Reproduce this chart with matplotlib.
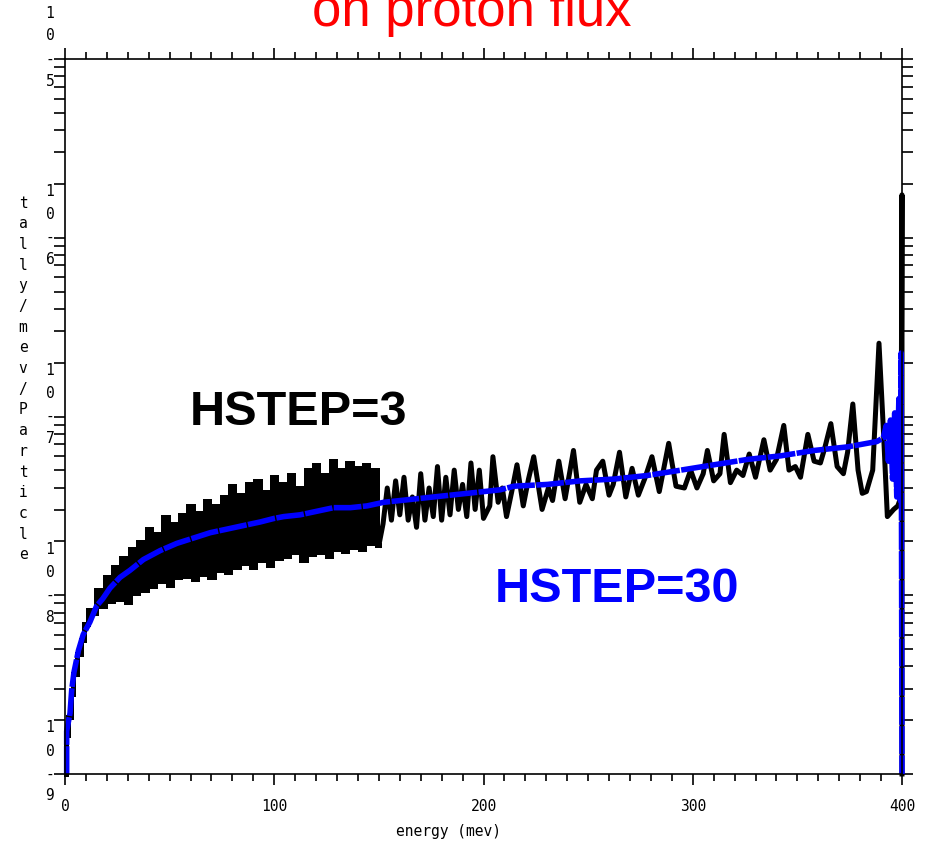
import matplotlib
matplotlib.use('Agg')
import matplotlib.pyplot as plt
import numpy as np
from matplotlib.ticker import LogLocator, MultipleLocator, NullFormatter
from matplotlib.transforms import offset_copy

# HSTEP=30 curve (smooth), energy in MeV, log10(tally/MeV/particle)
blue_e = [0.8, 0.8, 2.4, 3.2, 4.3, 6.4, 8.7, 11.9, 15.1, 18.0, 21.5, 26.3, 31.1, 37.5,
          45.5, 53.4, 61.4, 69.4, 77.4, 85.3, 93.3, 100.0, 104.5, 112.4, 120.4, 128.4,
          136.4, 144.4, 152.3, 160.3, 168.3, 176.2, 184.2, 192.2, 200.2, 208.0, 214.5,
          230.5, 246.4, 262.4, 278.3, 294.3, 310.2, 326.2, 342.1, 358.0, 374.0, 388.0,
          391.0, 392.5, 393.5, 394.5, 395.5, 396.5, 397.5, 398.5, 399.2, 399.6, 400.0]
blue_log = [-9.0, -8.76, -8.66, -8.53, -8.43, -8.31, -8.22, -8.15, -8.06, -8.02, -7.96,
            -7.90, -7.86, -7.80, -7.75, -7.71, -7.68, -7.65, -7.63, -7.61, -7.59, -7.57,
            -7.56, -7.55, -7.53, -7.51, -7.51, -7.50, -7.48, -7.47, -7.46, -7.45, -7.44,
            -7.43, -7.42, -7.41, -7.39, -7.38, -7.36, -7.35, -7.33, -7.30, -7.27, -7.24,
            -7.22, -7.19, -7.17, -7.14, -7.12, -7.05, -7.25, -7.02, -7.35, -6.98, -7.45,
            -6.90, -7.47, -6.645, -9.0]

# HSTEP=3 curve, low-energy part (dense histogram oscillation)
black_lo_e = [0.7, 0.7, 2.3, 3.3, 4.5, 6.5, 8.5,
              10, 12, 14, 16, 18, 20, 22, 24, 26, 28, 30, 32, 34, 36, 38, 40, 42, 44, 46,
              48, 50, 52, 54, 56, 58, 60, 62, 64, 66, 68, 70, 72, 74, 76, 78, 80, 82, 84,
              86, 88, 90, 92, 94, 96, 98, 100, 102, 104, 106, 108, 110, 112, 114, 116, 118,
              120, 122, 124, 126, 128, 130, 132, 134, 136, 138, 140, 142, 144, 146, 148,
              150]
black_lo_log = [-9.0, -8.78, -8.68, -8.55, -8.44, -8.33, -8.25,
                -8.16, -8.08, -8.10, -7.97, -8.06, -7.90, -8.03, -7.84, -8.02, -7.79, -8.04,
                -7.74, -7.99, -7.70, -7.97, -7.63, -7.95, -7.66, -7.92, -7.56, -7.94, -7.60,
                -7.90, -7.55, -7.89, -7.50, -7.91, -7.54, -7.88, -7.47, -7.90, -7.50, -7.86,
                -7.45, -7.87, -7.39, -7.84, -7.44, -7.82, -7.38, -7.84, -7.36, -7.80, -7.42,
                -7.83, -7.34, -7.79, -7.38, -7.78, -7.33, -7.76, -7.40, -7.80, -7.30, -7.77,
                -7.27, -7.76, -7.33, -7.78, -7.25, -7.74, -7.30, -7.75, -7.26, -7.73, -7.29,
                -7.74, -7.27, -7.71, -7.30, -7.72]

# HSTEP=3 curve, high-energy part (separated peaks)
black_hi_e = [150, 152, 154, 156, 158, 160, 162, 164, 166, 168, 170, 172, 174, 176, 178,
              180, 182, 184, 186, 188, 190, 192, 194, 196, 198, 200, 203, 204.5, 207, 209,
              211, 213.5, 216, 219, 221.5, 224, 228, 231, 233, 236, 239, 243, 246, 249,
              252, 254, 257, 260, 262, 265, 268, 271, 274, 277, 280.5, 284, 288.5, 292,
              296, 299, 302, 305, 307, 310, 313, 315, 318, 321, 324, 327, 330, 334, 337,
              340, 343.5, 346, 349, 351.5, 355, 358, 361, 363, 366, 369, 372, 374, 376.5,
              379, 381, 383, 386, 389, 391, 393, 396, 398, 399.5, 400.0, 400.0]
black_hi_log = [-7.72, -7.60, -7.40, -7.58, -7.36, -7.55, -7.34, -7.58, -7.45, -7.62,
                -7.32, -7.58, -7.40, -7.56, -7.28, -7.58, -7.34, -7.55, -7.30, -7.52,
                -7.38, -7.56, -7.26, -7.52, -7.30, -7.57, -7.50, -7.225, -7.48, -7.40,
                -7.56, -7.42, -7.27, -7.50, -7.35, -7.225, -7.52, -7.40, -7.47, -7.25,
                -7.46, -7.19, -7.48, -7.38, -7.46, -7.30, -7.25, -7.44, -7.38, -7.20,
                -7.45, -7.29, -7.44, -7.35, -7.225, -7.42, -7.15, -7.39, -7.40, -7.30,
                -7.40, -7.32, -7.19, -7.36, -7.32, -7.10, -7.37, -7.30, -7.33, -7.21,
                -7.34, -7.13, -7.30, -7.24, -7.05, -7.30, -7.28, -7.34, -7.10, -7.25,
                -7.26, -7.18, -7.04, -7.28, -7.32, -7.20, -6.93, -7.30, -7.43, -7.42,
                -7.30, -6.59, -7.05, -7.56, -7.52, -7.50, -7.45, -5.76, -9.0]

decades = [-9, -8, -7, -6, -5]
x_ticks = [0, 100, 200, 300, 400]

fig = plt.figure(figsize=(9.25, 8.41), dpi=100)
ax = fig.add_axes([65/925, 1-774/841, 837/925, 715/841])

ax.plot(black_lo_e, np.power(10.0, black_lo_log), color='black', lw=3.6, clip_on=False,
        drawstyle='steps-mid', solid_joinstyle='miter')
ax.plot(black_hi_e, np.power(10.0, black_hi_log), color='black', lw=3.6, clip_on=False,
        solid_joinstyle='round')
ax.plot(blue_e, np.power(10.0, blue_log), color=(0, 0, 1), lw=4, clip_on=False,
        dashes=(5, 0.25))

ax.set_yscale('log')
ax.set_ylim(1e-9, 1e-5)
ax.set_xlim(0, 400)

mono = 'DejaVu Sans Mono'
ax.set_xticks(x_ticks)
ax.set_xticklabels([str(t) for t in x_ticks], family=mono, fontsize=10.5)
ax.xaxis.set_minor_locator(MultipleLocator(10))
ax.yaxis.set_major_locator(LogLocator(base=10, numticks=10))
ax.yaxis.set_minor_locator(LogLocator(base=10, subs=np.arange(2, 10), numticks=20))
ax.yaxis.set_major_formatter(NullFormatter())
ax.yaxis.set_minor_formatter(NullFormatter())
ax.tick_params(axis='x', which='major', direction='out', length=8, width=1.2,
               top=True, pad=10)
ax.tick_params(axis='x', which='minor', direction='out', length=5, width=1.2, top=True)
ax.tick_params(axis='y', which='both', direction='out', length=8, width=1.2,
               right=True)
for sp in ax.spines.values():
    sp.set_linewidth(1.2)

# stacked y tick labels: 1 / 0 / - / n
ytrans = ax.get_yaxis_transform()
for d in decades:
    chars = ['1', '0', '-', str(-d)]
    offs = [46, 23, 0, -22]
    for ch, dy in zip(chars, offs):
        t = offset_copy(ytrans, fig=fig, x=-15, y=dy, units='dots')
        ax.text(0, 10.0**d, ch, transform=t, ha='center', va='center',
                family=mono, fontsize=10.5, clip_on=False)

# stacked y label
ylab = 'tally/mev/Particle'
for i, ch in enumerate(ylab):
    fig.text(23/925, 1 - (203 + i*20.7)/841, ch, ha='center', va='center',
             family=mono, fontsize=10.5)

ax.set_xlabel('energy (mev)', family=mono, fontsize=10.5)
ax.xaxis.set_label_coords((448-65)/837, -50/715)

ax.text(59.7, 10**-7.047, 'HSTEP=3', color='black', fontsize=35, fontweight='bold',
        family='Liberation Sans', ha='left', va='baseline')
ax.text(205.5, 10**-8.038, 'HSTEP=30', color=(0, 0, 1), fontsize=35, fontweight='bold',
        family='Liberation Sans', ha='left', va='baseline')

fig.text(472/925, 1 - 26/841, 'on proton flux', color='red', fontsize=38,
         family='Liberation Sans', ha='center', va='baseline')

fig.savefig('out.png', dpi=100)
